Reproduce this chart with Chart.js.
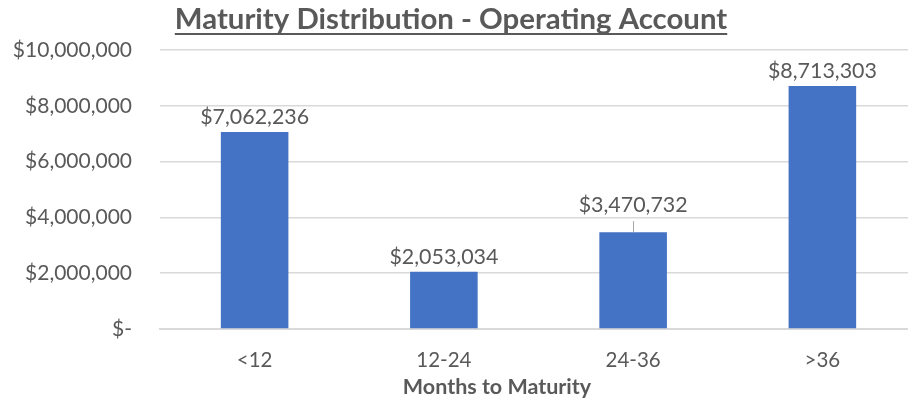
<!DOCTYPE html>
<html>
<head>
<meta charset="utf-8">
<script src="https://cdn.jsdelivr.net/npm/chart.js@4"></script>
<style>
  html, body { margin: 0; padding: 0; background: #ffffff; overflow: hidden; width: 908px; height: 400px; }
  #c { display: block; }
</style>
</head>
<body>
<canvas id="c" width="918" height="400"></canvas>
<script>
const chartTitle = 'Maturity Distribution - Operating Account';
const xAxisTitle = 'Months to Maturity';
const categories = ['<12', '12-24', '24-36', '>36'];
const values = [7062236, 2053034, 3470732, 8713303];
const yMin = 0;
const yMax = 10000000;
const yStep = 2000000;

const TEXT = '#595959';
const FONT = 'Lato';

function money(v) {
  if (v === 0) return '$-';
  return '$' + Math.round(v).toLocaleString('en-US');
}

const decor = {
  id: 'decor',
  afterDraw(chart) {
    const ctx = chart.ctx;
    ctx.save();
    // title
    ctx.font = 'bold 29.4px ' + FONT;
    ctx.fillStyle = TEXT;
    ctx.textAlign = 'center';
    ctx.textBaseline = 'alphabetic';
    const tx = 451, ty = 29;
    ctx.fillText(chartTitle, tx, ty);
    const w = ctx.measureText(chartTitle).width;
    ctx.fillRect(tx - w / 2, ty + 4, w, 2);
    // x axis title
    ctx.font = 'bold 21.5px ' + FONT;
    ctx.fillText(xAxisTitle, 497, 394);
    // data labels
    const meta = chart.getDatasetMeta(0);
    ctx.font = '21.4px ' + FONT;
    meta.data.forEach((bar, i) => {
      const lift = (i === 2) ? 20 : 8;
      ctx.fillStyle = TEXT;
      ctx.fillText(money(values[i]), bar.x, bar.y - lift);
      if (i === 2) {
        ctx.strokeStyle = '#a6a6a6';
        ctx.lineWidth = 1;
        ctx.beginPath();
        ctx.moveTo(Math.round(bar.x) + 0.5, bar.y - 11);
        ctx.lineTo(Math.round(bar.x) + 0.5, bar.y);
        ctx.stroke();
      }
    });
    ctx.restore();
  }
};

new Chart(document.getElementById('c'), {
  type: 'bar',
  data: {
    labels: categories,
    datasets: [{
      data: values,
      backgroundColor: '#4472C4',
      borderWidth: 0,
      categoryPercentage: 1,
      barPercentage: 0.357
    }]
  },
  options: {
    responsive: false,
    animation: false,
    layout: { padding: { top: 50, right: 1, left: 0, bottom: 0 } },
    plugins: { legend: { display: false }, title: { display: false }, tooltip: { enabled: false } },
    scales: {
      x: {
        grid: { display: false, drawTicks: false },
        border: { display: true, color: '#d9d9d9', width: 2 },
        ticks: { color: TEXT, font: { family: FONT, size: 20.5 }, padding: 19 },
        afterFit(s) { s.height = 71; }
      },
      y: {
        min: yMin, max: yMax,
        grid: { color: '#d9d9d9', lineWidth: 1.5, drawTicks: false },
        border: { display: false },
        ticks: { stepSize: yStep, color: TEXT, font: { family: FONT, size: 21 }, padding: 28,
                 callback: v => money(v) },
        afterFit(s) { s.width = 160; }
      }
    }
  },
  plugins: [decor]
});
</script>
</body>
</html>
